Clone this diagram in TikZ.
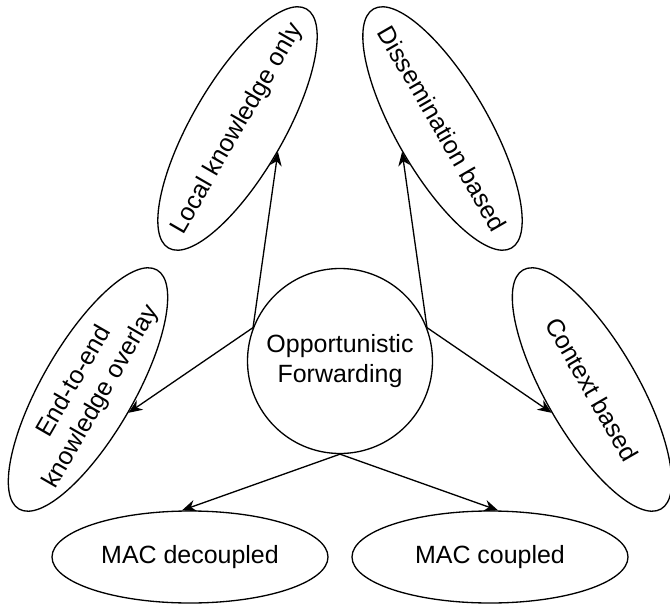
\documentclass[tikz,border=0pt]{standalone}
\usepackage{fontspec}
\setmainfont{Liberation Sans}
\usepackage{tikz}
\usetikzlibrary{arrows.meta,calc,shapes.geometric}
\tikzset{
    >={Stealth[length=2.8mm,width=2.3mm]},
    every picture/.style={line width=0.75pt},
    hub/.style={circle,draw,minimum size=3.7cm,inner sep=0pt,align=center},
    leaf/.style={ellipse,draw,minimum width=5.52cm,minimum height=1.84cm,
        inner xsep=-1cm,inner ysep=0pt,align=center}
}

\begin{document}
\begin{tikzpicture}[font=\fontsize{14.2}{17.5}\selectfont]
        \useasboundingbox (0,0) rectangle (13.4,12.06);
        \node[hub] (fwd) at (6.80,4.84) {Opportunistic\\Forwarding};
        \node[leaf,rotate=60] (local) at (4.75,9.49) {Local knowledge only};
        \node[leaf,rotate=-60] (dissem) at (8.85,9.49) {Dissemination based};
        \node[leaf,rotate=60] (overlay) at (1.76,4.27) {End-to-end\\knowledge overlay};
        \node[leaf,rotate=-60] (context) at (11.84,4.27) {Context based};
        \node[leaf] (decoupled) at (3.80,0.92) {MAC decoupled};
        \node[leaf] (coupled) at (9.80,0.92) {MAC coupled};
        \draw[->] (fwd.159) -- (local.south);
        \draw[->] (fwd.159) -- (overlay.south);
        \draw[->] (fwd.21) -- (dissem.south);
        \draw[->] (fwd.21) -- (context.south);
        \draw[->] (fwd.south) -- ($(decoupled.north)+(-0.16,0)$);
        \draw[->] (fwd.south) -- ($(coupled.north)+(0.16,0)$);
    \end{tikzpicture}
\end{document}
